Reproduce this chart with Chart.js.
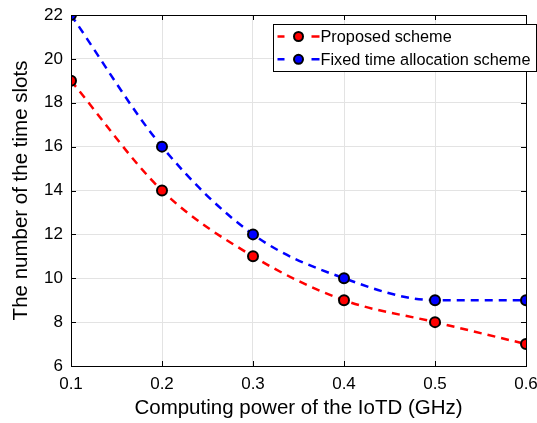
<!DOCTYPE html>
<html><head><meta charset="utf-8">
<script src="https://cdn.jsdelivr.net/npm/chart.js@4/dist/chart.umd.min.js"></script>
<style>html,body{margin:0;padding:0;background:#fff}#wrap{width:537px;height:423px}</style>
</head><body><div id="wrap"><canvas id="c" width="537" height="423"></canvas></div>
<script>
const xValues = [0.1, 0.2, 0.3, 0.4, 0.5, 0.6];
const proposed = [19, 14, 11, 9, 8, 7];
const fixedAlloc = [22, 16, 12, 10, 9, 9];
const seriesNames = ["Proposed scheme", "Fixed time allocation scheme"];
const xTitle = "Computing power of the IoTD (GHz)";
const yTitle = "The number of the time slots";

const FONT = "'Liberation Sans', Arial, Helvetica, sans-serif";

const boxPlugin = {
  id: 'box',
  afterDraw(chart) {
    const {ctx, chartArea: a} = chart;
    ctx.save();
    ctx.strokeStyle = '#000';
    ctx.lineWidth = 1;
    ctx.strokeRect(Math.round(a.left)+0.5, Math.round(a.top)+0.5, Math.round(a.right-a.left), Math.round(a.bottom-a.top));
    const xs = chart.scales.x, ys = chart.scales.y;
    ctx.beginPath();
    xs.ticks.forEach(t => {
      const x = Math.round(xs.getPixelForValue(t.value))+0.5;
      ctx.moveTo(x, a.bottom); ctx.lineTo(x, a.bottom-5);
      ctx.moveTo(x, a.top); ctx.lineTo(x, a.top+5);
    });
    ys.ticks.forEach(t => {
      const y = Math.round(ys.getPixelForValue(t.value))+0.5;
      ctx.moveTo(a.left, y); ctx.lineTo(a.left+5, y);
      ctx.moveTo(a.right, y); ctx.lineTo(a.right-5, y);
    });
    ctx.stroke();
    // legend
    const lx = 273.5, ly = 24.5, lw = 263, lh = 47;
    ctx.fillStyle = '#fff';
    ctx.fillRect(lx, ly, lw, lh);
    ctx.strokeStyle = '#000';
    ctx.strokeRect(lx, ly, lw, lh);
    const cols = ['#ff0000', '#0000ff'];
    ctx.font = "16.3px " + FONT;
    ctx.textBaseline = 'middle';
    ctx.textAlign = 'left';
    seriesNames.forEach((n, i) => {
      const cy = ly + 12 + i * 22.8;
      ctx.strokeStyle = cols[i];
      ctx.lineWidth = 2.5;
      ctx.beginPath();
      ctx.moveTo(lx+4, cy); ctx.lineTo(lx+11, cy);
      ctx.moveTo(lx+38, cy); ctx.lineTo(lx+46, cy);
      ctx.stroke();
      ctx.beginPath();
      ctx.arc(lx+25, cy, 4.5, 0, Math.PI*2);
      ctx.fillStyle = cols[i];
      ctx.fill();
      ctx.lineWidth = 2;
      ctx.strokeStyle = '#000';
      ctx.stroke();
      ctx.fillStyle = '#000';
      ctx.fillText(n, lx+47, cy+1);
    });
    ctx.restore();
  }
};

new Chart(document.getElementById('c'), {
  type: 'line',
  data: {
    datasets: [
      {
        label: seriesNames[0],
        data: xValues.map((x, i) => ({x, y: proposed[i]})),
        borderColor: '#ff0000', backgroundColor: '#ff0000',
        borderWidth: 2.5, borderDash: [8, 6],
        cubicInterpolationMode: 'monotone',
        pointRadius: 5, pointBorderWidth: 2, pointBorderColor: '#000', pointBackgroundColor: '#ff0000'
      },
      {
        label: seriesNames[1],
        data: xValues.map((x, i) => ({x, y: fixedAlloc[i]})),
        borderColor: '#0000ff', backgroundColor: '#0000ff',
        borderWidth: 2.5, borderDash: [8, 6],
        cubicInterpolationMode: 'monotone',
        pointRadius: 5, pointBorderWidth: 2, pointBorderColor: '#000', pointBackgroundColor: '#0000ff'
      }
    ]
  },
  options: {
    responsive: false, animation: false,
    layout: {padding: {top: 15, right: 11, left: 0, bottom: 0}},
    plugins: {legend: {display: false}, tooltip: {enabled: false}},
    scales: {
      x: {
        type: 'linear', min: 0.1, max: 0.6,
        afterFit(s) { s.height = 57; s.paddingRight = 0; s.paddingLeft = 0; },
        ticks: {stepSize: 0.1, color: '#000', font: {family: FONT, size: 17}, padding: 8,
          maxRotation: 0, callback: v => Number(v).toFixed(1)},
        grid: {color: '#e3e3e3', drawTicks: false, lineWidth: 1},
        border: {display: false},
        title: {display: true, text: xTitle, color: '#000', font: {family: FONT, size: 20.5}, padding: {top: 0, bottom: 2}}
      },
      y: {
        min: 6, max: 22,
        afterFit(s) { s.width = 71; s.paddingTop = 0; s.paddingBottom = 0; },
        ticks: {stepSize: 2, color: '#000', font: {family: FONT, size: 17}, padding: 8},
        grid: {color: '#e3e3e3', drawTicks: false, lineWidth: 1},
        border: {display: false},
        title: {display: true, text: yTitle, color: '#000', font: {family: FONT, size: 20.5}, padding: {top: 9, bottom: 0}}
      }
    }
  },
  plugins: [boxPlugin]
});
</script></body></html>
